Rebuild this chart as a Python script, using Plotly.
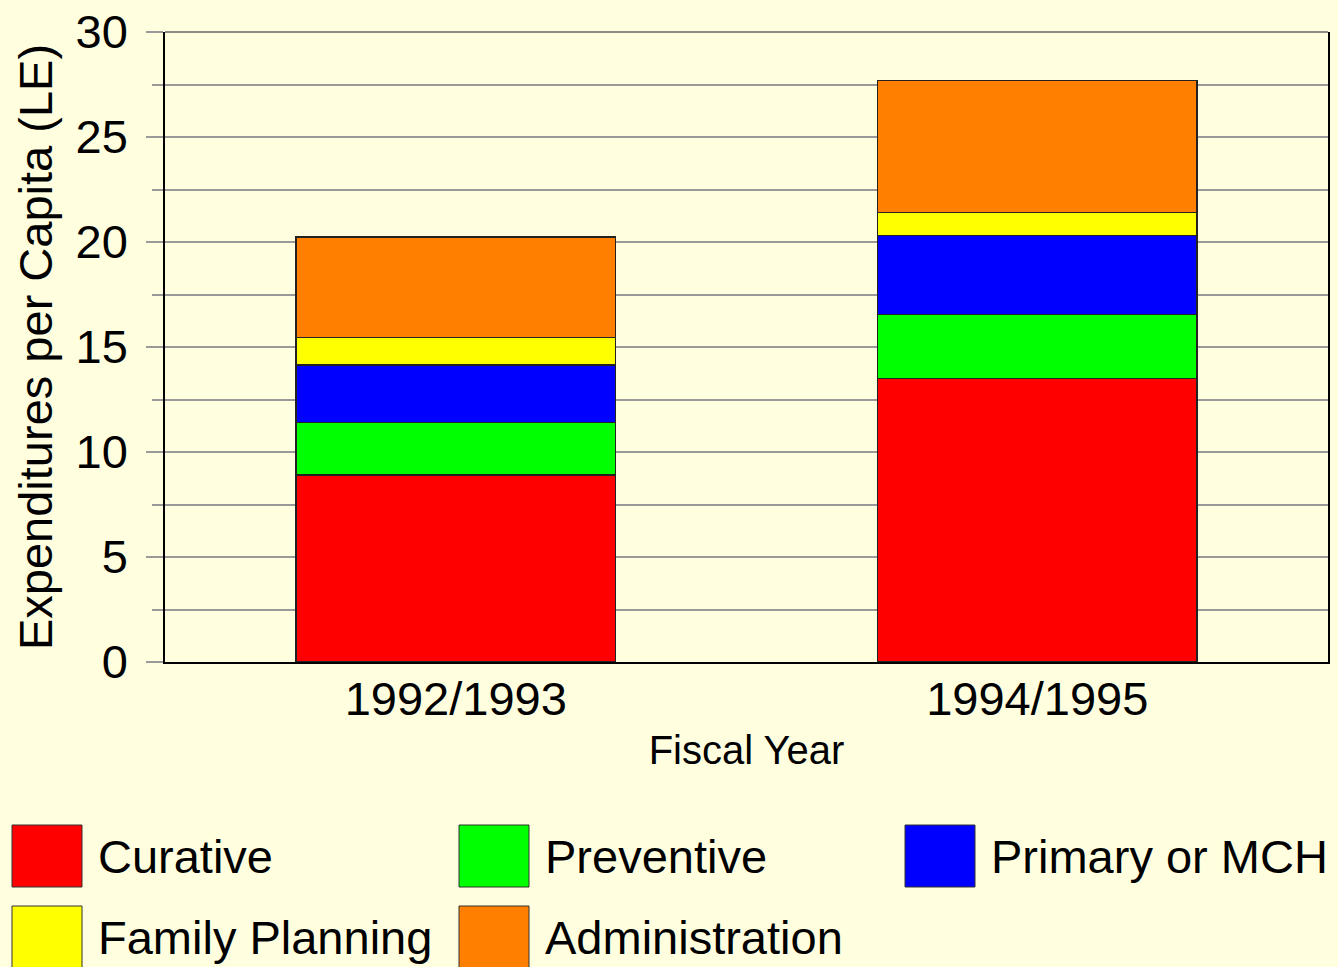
import plotly.graph_objects as go

years = ["1992/1993", "1994/1995"]
curative = [8.9, 13.5]
preventive = [2.5, 3.05]
primary_mch = [2.75, 3.75]
family_planning = [1.3, 1.1]
administration = [4.8, 6.3]

series = [
    ("Curative", curative, "#FF0000"),
    ("Preventive", preventive, "#00FF00"),
    ("Primary or MCH", primary_mch, "#0000FF"),
    ("Family Planning", family_planning, "#FFFF00"),
    ("Administration", administration, "#FF8000"),
]

W, H = 1338, 967
L, R, T, B = 165, 10, 32, 305
FONT = "Liberation Sans, Arial, sans-serif"
BG = "#FFFFE0"


def px_x(x):
    return (x - L) / (W - L - R)


def px_y(y):
    return (H - B - y) / (H - T - B)


fig = go.Figure()
for name, vals, col in series:
    fig.add_trace(go.Bar(x=years, y=vals, name=name, marker_color=col,
                         marker_line=dict(color="#222222", width=1.5)))

# hand-made legend with big swatches
legend_pos = [(12, 856), (459, 856), (905, 856), (12, 937), (459, 937)]
shapes = []
annotations = []
for (name, _, col), (lx, ly) in zip(series, legend_pos):
    shapes.append(dict(type="rect", xref="paper", yref="paper",
                       x0=px_x(lx), x1=px_x(lx + 70),
                       y0=px_y(ly - 31), y1=px_y(ly + 31),
                       fillcolor=col, line=dict(color="#333333", width=1)))
    annotations.append(dict(text=name, xref="paper", yref="paper",
                            x=px_x(lx + 84), y=px_y(ly), xanchor="left",
                            yanchor="middle", showarrow=False,
                            font=dict(size=47, color="black", family=FONT)))

# top border of the plot frame
shapes.append(dict(type="line", xref="paper", yref="paper", x0=0, x1=1,
                   y0=1, y1=1, line=dict(color="#666666", width=1.5)))

fig.update_layout(
    barmode="stack",
    bargap=0.45,
    width=W, height=H,
    margin=dict(l=L, r=R, t=T, b=B, autoexpand=False),
    paper_bgcolor=BG,
    plot_bgcolor=BG,
    showlegend=False,
    font=dict(family=FONT, color="black", size=47),
    shapes=shapes,
    annotations=annotations,
    xaxis=dict(
        title=dict(text="Fiscal Year", font=dict(size=40), standoff=12),
        showline=True, linecolor="black", linewidth=1.5, automargin=False,
        ticks="", tickfont=dict(size=47), ticklabelstandoff=-5,
        showgrid=False,
    ),
    yaxis=dict(
        title=dict(text="Expenditures per Capita (LE)", font=dict(size=47), standoff=8),
        range=[0, 30], dtick=5, automargin=False,
        showline=True, linecolor="black", linewidth=1.5, mirror=True,
        ticks="outside", ticklen=17, tickcolor="#999999", tickwidth=1.5,
        ticklabelstandoff=9,
        showgrid=True, gridcolor="#999999", gridwidth=1.5,
        zeroline=False,
        minor=dict(dtick=2.5, ticks="outside", ticklen=11, tickcolor="#999999",
                   showgrid=True, gridcolor="#999999", gridwidth=1.5),
    ),
)

fig.write_html("out.html", config={"displayModeBar": False},
               post_script="document.body.style.margin='0';"
                           "document.body.style.background='#FFFFE0';")
